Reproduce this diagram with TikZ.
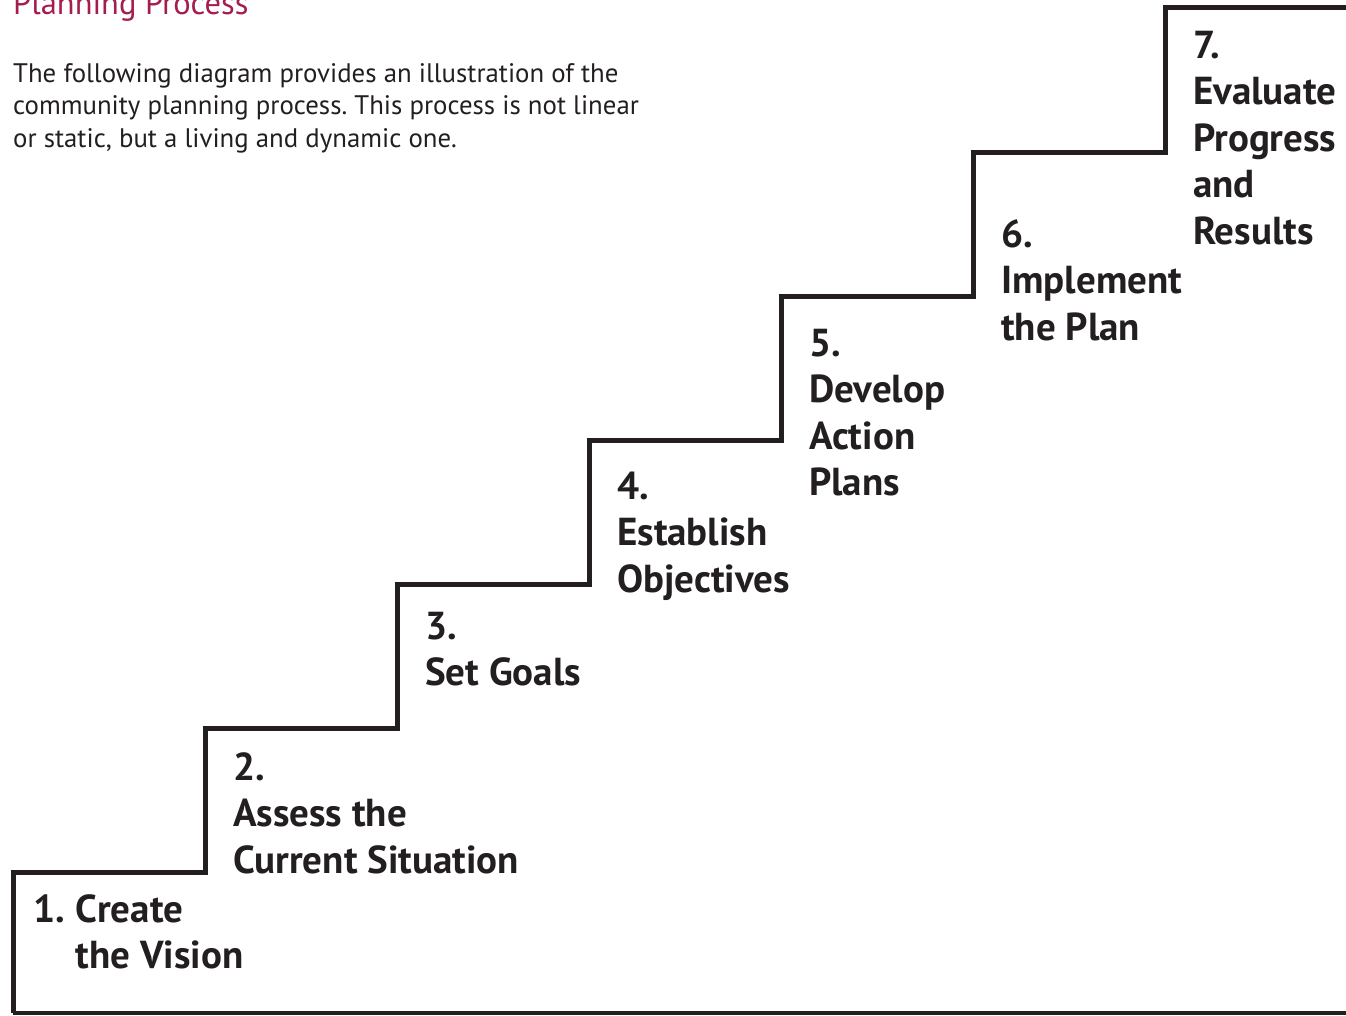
\documentclass[tikz,border=0pt]{standalone}
\usepackage{fontspec}
\setmainfont{PT Sans}
\newfontfamily\labfam{PT Sans}
\definecolor{ink}{HTML}{231F20}
\definecolor{maroon}{HTML}{A51C4E}
\frenchspacing
\newcommand{\steplines}[1]{\vtop{\baselineskip=46.5pt\lineskiplimit=-200pt #1}}
\begin{document}
\begin{tikzpicture}[x=1pt,y=-1pt,
  stairline/.style={draw=ink, line width=5pt, line join=miter, line cap=butt},
  floorline/.style={draw=ink, line width=3.5pt},
  steplabel/.style={anchor=base west, inner sep=0pt, text=ink, font=\labfam\bfseries\fontsize{39}{46.5}\selectfont},
  bodytext/.style={anchor=base west, inner sep=0pt, text=ink, font=\fontsize{26.8}{32.5}\selectfont},
  titletext/.style={anchor=base west, inner sep=0pt, text=maroon, font=\fontsize{32.5}{38}\selectfont}]
\useasboundingbox (0,0) rectangle (1346,1015);
% staircase
\coordinate (s0) at (13,1013);
\coordinate (s1) at (13,872);
\coordinate (e7) at (1346,7.5);
\coordinate (f1) at (1346,1013);
\draw[floorline] (f1) -- (s0);
\draw[stairline] (s0) -- (s1) -- (205,872) -- (205,728) -- (397,728) -- (397,584)
  -- (589,584) -- (589,440) -- (781,440) -- (781,296) -- (973,296) -- (973,152)
  -- (1165.5,152) -- (1165.5,7.5) -- (e7);
% title and intro
\node[titletext] (title) at (13,14) {Planning Process};
\node[bodytext] (intro) at (13,82) {\vtop{\baselineskip=32.5pt\lineskiplimit=-200pt
  \hbox{The following diagram provides an illustration of the}
  \hbox{community planning process. This process is not linear}
  \hbox{or static, but a living and dynamic one.}}};
% step labels
\node[steplabel] (l1) at (33,922) {\steplines{\hbox{1.\hspace{0.28em}Create}\hbox{\phantom{1.\hspace{0.28em}}the Vision}}};
\node[steplabel] (l2) at (233,780) {\steplines{\hbox{2.}\hbox{Assess the}\hbox{Current Situation}}};
\node[steplabel] (l3) at (425,639) {\steplines{\hbox{3.}\hbox{Set Goals}}};
\node[steplabel] (l4) at (617,499) {\steplines{\hbox{4.}\hbox{Establish}\hbox{Objectives}}};
\node[steplabel] (l5) at (809,356) {\steplines{\hbox{5.}\hbox{Develop}\hbox{Action}\hbox{Plans}}};
\node[steplabel] (l6) at (1001,247) {\steplines{\hbox{6.}\hbox{Implement}\hbox{the Plan}}};
\node[steplabel] (l7) at (1193,58) {\steplines{\hbox{7.}\hbox{Evaluate}\hbox{Progress}\hbox{and}\hbox{Results}}};
\end{tikzpicture}
\end{document}
